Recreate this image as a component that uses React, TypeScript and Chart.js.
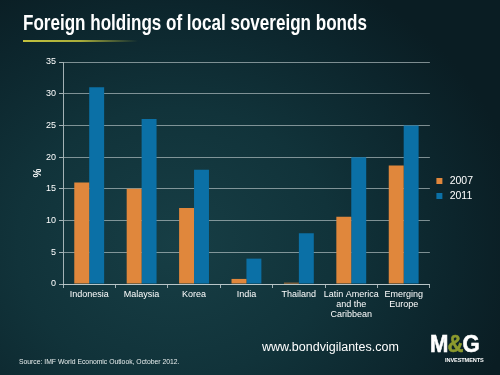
import React, { useEffect, useRef } from "react";
import { Chart, registerables } from "chart.js";

Chart.register(...registerables);

const categories: (string | string[])[] = [
  "Indonesia",
  "Malaysia",
  "Korea",
  "India",
  "Thailand",
  ["Latin America", "and the", "Caribbean"],
  ["Emerging", "Europe"],
];
const series2007 = [16, 15, 12, 0.8, 0.2, 10.6, 18.7];
const series2011 = [31, 26, 18, 4, 8, 20, 25];
const yTicksMax = 35;
const yTickStep = 5;

const FONT = "'Liberation Sans', Arial, sans-serif";

export default function App() {
  const ref = useRef<HTMLCanvasElement | null>(null);

  useEffect(() => {
    document.body.style.margin = "0";
    const canvas = ref.current;
    if (!canvas) return;
    const chart = new Chart(canvas, {
      type: "bar",
      data: {
        labels: categories,
        datasets: [
          {
            label: "2007",
            data: series2007,
            backgroundColor: "#e0873c",
            borderWidth: 0,
            categoryPercentage: 0.57,
            barPercentage: 1,
          },
          {
            label: "2011",
            data: series2011,
            backgroundColor: "#0b70a6",
            borderWidth: 0,
            categoryPercentage: 0.57,
            barPercentage: 1,
          },
        ],
      },
      options: {
        animation: false,
        responsive: false,
        maintainAspectRatio: false,
        layout: { padding: { left: 23, top: 62, right: 17, bottom: 46 } },
        plugins: {
          tooltip: { enabled: false },
          title: { display: false },
          legend: {
            display: true,
            position: "right",
            align: "center",
            fullSize: false,
            title: {
              display: true,
              text: "",
              font: { family: FONT, size: 10, lineHeight: 1 },
              padding: { top: 21, bottom: 0 },
            },
            labels: {
              color: "#ffffff",
              font: { family: FONT, size: 10.5 },
              boxWidth: 10,
              boxHeight: 6,
              usePointStyle: true,
              pointStyle: "rect",
              padding: 4.5,
            },
          },
        },
        scales: {
          x: {
            afterFit: (s: any) => {
              s.height = 45;
            },
            grid: {
              display: true,
              drawOnChartArea: false,
              drawTicks: true,
              tickLength: 4,
              tickColor: "rgba(200,210,212,0.8)",
              offset: true,
            },
            border: { display: true, color: "rgba(200,210,212,0.8)", width: 1 },
            ticks: {
              color: "#ffffff",
              font: { family: FONT, size: 9, lineHeight: 1.08 },
              padding: 2,
              maxRotation: 0,
              autoSkip: false,
            },
          },
          y: {
            min: 0,
            max: yTicksMax,
            afterFit: (s: any) => {
              s.width = 40;
            },
            ticks: {
              stepSize: yTickStep,
              color: "#ffffff",
              font: { family: FONT, size: 9 },
              padding: 3,
            },
            grid: {
              color: "rgba(195,206,208,0.62)",
              lineWidth: 1,
              drawTicks: true,
              tickLength: 4,
              tickColor: "rgba(200,210,212,0.8)",
            },
            border: { display: true, color: "rgba(200,210,212,0.8)", width: 1 },
            title: {
              display: true,
              text: "%",
              color: "#ffffff",
              font: { family: FONT, size: 10, weight: "bold" },
              padding: { top: 9, bottom: 0 },
            },
          },
        },
      },
    } as any);
    return () => chart.destroy();
  }, []);

  return (
    <div
      style={{
        position: "fixed",
        left: 0,
        top: 0,
        width: 500,
        height: 375,
        overflow: "hidden",
        background:
          "radial-gradient(ellipse 70% 80% at 35% 65%, #173e45 0%, #11333a 45%, #0c252c 80%, #0a1d23 100%)",
        fontFamily: FONT,
      }}
    >
      <div
        style={{
          position: "absolute",
          left: 23,
          top: 10,
          color: "#ffffff",
          fontFamily: FONT,
          fontWeight: "bold",
          fontSize: 22,
          lineHeight: "26px",
          whiteSpace: "nowrap",
          transform: "scaleX(0.775)",
          transformOrigin: "0 0",
        }}
      >
        Foreign holdings of local sovereign bonds
      </div>
      <div
        style={{
          position: "absolute",
          left: 23,
          top: 40,
          width: 115,
          height: 2,
          background: "linear-gradient(to right, #c2c23e 0%, #a9ad3a 50%, rgba(120,130,60,0) 100%)",
        }}
      />
      <canvas ref={ref} width={500} height={375} style={{ position: "absolute", left: 0, top: 0 }} />
      <div
        style={{
          position: "absolute",
          left: 262,
          top: 340,
          color: "#ffffff",
          fontSize: 12.5,
          whiteSpace: "nowrap",
        }}
      >
        www.bondvigilantes.com
      </div>
      <div
        style={{
          position: "absolute",
          left: 19,
          top: 358,
          color: "#e8eeee",
          fontSize: 6.8,
          whiteSpace: "nowrap",
        }}
      >
        Source: IMF World Economic Outlook, October 2012.
      </div>
      <div
        style={{
          position: "absolute",
          left: 430,
          top: 332,
          color: "#ffffff",
          fontWeight: 900,
          fontSize: 24,
          lineHeight: "24px",
          letterSpacing: -1,
          whiteSpace: "nowrap",
          fontFamily: FONT,
          transform: "scaleX(0.92)",
          transformOrigin: "0 0",
          WebkitTextStroke: "0.6px #ffffff",
        }}
      >
        M<span style={{ color: "#8c9a2e", WebkitTextStroke: "0.6px #8c9a2e" }}>&amp;</span>G
      </div>
      <div
        style={{
          position: "absolute",
          left: 445,
          top: 357,
          color: "#ffffff",
          fontWeight: "bold",
          fontSize: 5.6,
          letterSpacing: -0.1,
          whiteSpace: "nowrap",
        }}
      >
        INVESTMENTS
      </div>
    </div>
  );
}
